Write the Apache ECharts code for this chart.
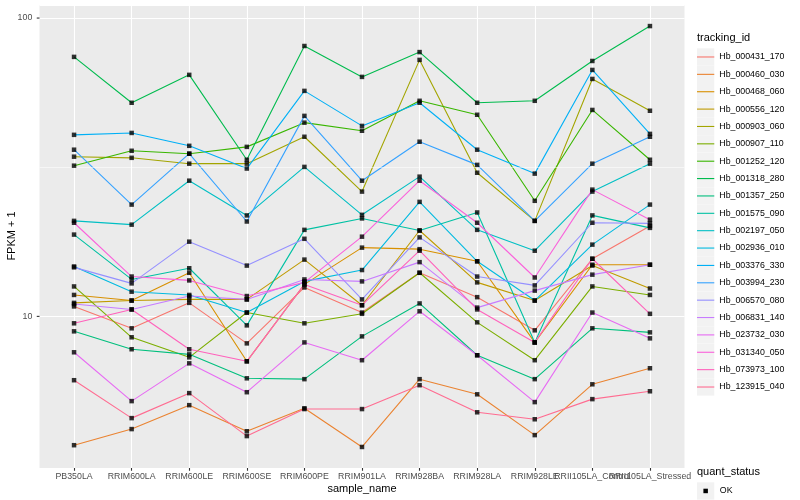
<!DOCTYPE html>
<html><head><meta charset="utf-8">
<script src="https://cdn.jsdelivr.net/npm/echarts@6/dist/echarts.min.js"></script>
<style>html,body{margin:0;padding:0;background:#fff}#c{width:800px;height:500px}</style>
</head><body><div id="c"></div>
<script>
const categories = ['PB350LA','RRIM600LA','RRIM600LE','RRIM600SE','RRIM600PE','RRIM901LA','RRIM928BA','RRIM928LA','RRIM928LE','RRII105LA_Control','RRII105LA_Stressed'];
const trackingIds = ['Hb_000431_170','Hb_000460_030','Hb_000468_060','Hb_000556_120','Hb_000903_060','Hb_000907_110','Hb_001252_120','Hb_001318_280','Hb_001357_250','Hb_001575_090','Hb_002197_050','Hb_002936_010','Hb_003376_330','Hb_003994_230','Hb_006570_080','Hb_006831_140','Hb_023732_030','Hb_031340_050','Hb_073973_100','Hb_123915_040'];
const yTickLabels = [10, 100];
const quantStatus = ['OK'];

const Hb_000431_170 = [10.8, 9.12, 11.1, 8.12, 12.5, 10.3, 14.0, 11.6, 8.98, 15.6, 20.1];
const Hb_000460_030 = [3.70, 4.19, 5.04, 4.12, 4.92, 3.65, 6.16, 5.48, 4.00, 5.92, 6.70];
const Hb_000468_060 = [11.8, 11.3, 14.0, 7.07, 12.8, 17.0, 16.8, 15.3, 8.18, 14.9, 14.9];
const Hb_000556_120 = [11.1, 11.3, 11.4, 11.4, 15.5, 10.9, 19.4, 13.0, 11.3, 14.8, 12.4];
const Hb_000903_060 = [34.3, 34.0, 32.5, 32.5, 40.0, 26.2, 72.4, 30.3, 20.9, 62.5, 48.9];
const Hb_000907_110 = [12.6, 8.51, 7.29, 10.3, 9.48, 10.2, 14.0, 9.55, 7.13, 12.6, 11.8];
const Hb_001252_120 = [32.0, 35.9, 35.1, 37.0, 44.6, 41.9, 52.8, 47.4, 24.4, 49.2, 33.5];
const Hb_001318_280 = [74.1, 52.0, 64.5, 33.5, 80.6, 63.5, 76.9, 52.0, 52.8, 71.8, 94.0];
const Hb_001357_250 = [8.91, 7.76, 7.46, 6.20, 6.16, 8.57, 11.05, 7.41, 6.16, 9.12, 8.84];
const Hb_001575_090 = [18.8, 13.3, 14.5, 9.33, 19.5, 21.3, 19.4, 22.3, 8.18, 21.8, 19.8];
const Hb_002197_050 = [20.9, 20.3, 28.5, 21.8, 31.7, 21.9, 29.4, 19.5, 16.6, 26.2, 32.5];
const Hb_002936_010 = [14.7, 12.1, 11.8, 10.3, 13.1, 14.3, 24.2, 15.3, 11.3, 17.4, 23.7];
const Hb_003376_330 = [40.6, 41.2, 37.3, 31.3, 57.0, 43.5, 52.0, 36.2, 30.1, 67.0, 40.9];
const Hb_003994_230 = [36.2, 23.7, 35.1, 20.8, 47.0, 28.5, 38.5, 32.2, 20.9, 32.5, 40.0];
const Hb_006570_080 = [14.6, 12.9, 17.8, 14.8, 18.2, 11.4, 18.4, 13.6, 12.7, 20.6, 20.5];
const Hb_006831_140 = [11.0, 10.55, 11.7, 11.4, 13.3, 13.1, 15.2, 10.7, 12.2, 13.8, 14.9];
const Hb_023732_030 = [7.58, 5.20, 6.96, 5.57, 8.18, 7.13, 10.4, 7.41, 5.16, 10.3, 8.44];
const Hb_031340_050 = [20.6, 13.6, 13.2, 11.7, 13.0, 18.5, 28.5, 20.6, 13.5, 26.6, 21.1];
const Hb_073973_100 = [9.48, 10.55, 7.76, 7.07, 12.8, 10.9, 16.6, 10.55, 8.18, 15.6, 10.2];
const Hb_123915_040 = [6.11, 4.56, 5.53, 3.97, 4.89, 4.89, 5.88, 4.77, 4.52, 5.28, 5.61];

const seriesValues = [Hb_000431_170, Hb_000460_030, Hb_000468_060, Hb_000556_120, Hb_000903_060,
  Hb_000907_110, Hb_001252_120, Hb_001318_280, Hb_001357_250, Hb_001575_090, Hb_002197_050,
  Hb_002936_010, Hb_003376_330, Hb_003994_230, Hb_006570_080, Hb_006831_140, Hb_023732_030,
  Hb_031340_050, Hb_073973_100, Hb_123915_040];

const palette = ['#F8766D','#EA8331','#D89000','#C09B00','#A3A500','#7CAE00','#39B600','#00BB4E','#00BF7D','#00C1A3','#00BFC4','#00BAE0','#00B0F6','#35A2FF','#9590FF','#C77CFF','#E76BF3','#FA62DB','#FF62BC','#FF6C91'];

const FONT = '"Liberation Sans", Arial, sans-serif';
const idx = categories.map((c, i) => i);
const lastIdx = idx[idx.length - 1];
const mainLabelIdx = idx.filter(i => i !== lastIdx - 1);
const overlapLabelIdx = [lastIdx - 1];

const lineSeries = trackingIds.map((id, k) => ({
  name: id, type: 'line',
  data: seriesValues[k].map((v, i) => [i, v]),
  showSymbol: false, symbol: 'none',
  itemStyle: { color: palette[k] },
  lineStyle: { color: palette[k], width: 1.1 },
  emphasis: { disabled: true }, silent: true, z: 2
}));

const pointData = [];
seriesValues.forEach(arr => arr.forEach((v, i) => pointData.push([i, v])));

const gridHelper = {
  name: '_grid', type: 'line', data: [], z: 1, silent: true,
  markLine: {
    silent: true, symbol: ['none', 'none'], label: { show: false }, animation: false,
    lineStyle: { color: '#FFFFFF', width: 0.55, type: 'solid' },
    data: [{ yAxis: 31.6228 }]
  }
};

const keyTop = 48.3, keyStep = 17.37;
const graphics = [
  { type: 'text', left: 697, top: 32, style: { text: 'tracking_id', font: '11px ' + FONT, fill: '#000' } },
  { type: 'text', left: 697, top: 466, style: { text: 'quant_status', font: '11px ' + FONT, fill: '#000' } },
  { type: 'rect', shape: { x: 697, y: 482.3, width: 17.28, height: 17.28 }, style: { fill: '#F2F2F2' }, z: 0 },
  { type: 'rect', shape: { x: 703.4, y: 488.7, width: 4.5, height: 4.5 }, style: { fill: '#000' }, z: 1 },
  { type: 'text', x: 719.8, y: 491, style: { text: quantStatus[0], font: '8.8px ' + FONT, fill: '#000', verticalAlign: 'middle' } },
  { type: 'text', x: 12, y: 236, rotation: Math.PI / 2, style: { text: 'FPKM + 1', font: '11px ' + FONT, fill: '#000', align: 'center', verticalAlign: 'middle' } },
  { type: 'text', x: 362, y: 489, style: { text: 'sample_name', font: '11px ' + FONT, fill: '#000', align: 'center', verticalAlign: 'middle' } }
];
trackingIds.forEach((id, k) => {
  graphics.push({ type: 'rect', shape: { x: 697, y: keyTop + k * keyStep, width: 17.28, height: 17.28 }, style: { fill: '#F2F2F2' }, z: 0 });
});

const xLabelStyle = { margin: 4.5, color: '#4D4D4D', fontSize: 8.8, fontFamily: FONT, hideOverlap: false, formatter: v => categories[Math.round(v)] };

const chart = echarts.init(document.getElementById('c'), null, { renderer: 'canvas' });
chart.setOption({
  animation: false,
  backgroundColor: '#FFFFFF',
  grid: { left: 39.5, right: 115.5, top: 5, bottom: 32, show: true, backgroundColor: '#EBEBEB', borderWidth: 0, containLabel: false },
  xAxis: [{
    type: 'value', min: -0.6, max: 10.6, z: 2,
    axisLine: { show: false },
    axisTick: { show: true, length: 2.75, lineStyle: { color: '#333333', width: 1.1 }, customValues: idx },
    axisLabel: Object.assign({ customValues: mainLabelIdx }, xLabelStyle),
    splitLine: { show: true, lineStyle: { color: '#FFFFFF', width: 1.1 } },
    minorSplitLine: { show: false }
  }, {
    type: 'value', min: -0.6, max: 10.6, position: 'bottom', offset: 0, z: 1,
    axisLine: { show: false }, axisTick: { show: false }, splitLine: { show: false },
    axisLabel: Object.assign({ customValues: overlapLabelIdx }, xLabelStyle)
  }],
  yAxis: {
    type: 'log', logBase: 10, min: 3.103, max: 110.6,
    axisLine: { show: false },
    axisTick: { show: false },
    axisLabel: {
      margin: 7.2, color: '#4D4D4D', fontSize: 8.8, fontFamily: FONT,
      formatter: v => { const l = Math.log10(v); return yTickLabels.some(t => Math.abs(Math.log10(t) - l) < 1e-6) ? String(Math.round(v)) : ''; }
    },
    splitLine: { show: true, lineStyle: { color: '#FFFFFF', width: 1.1 } }
  },
  legend: {
    orient: 'vertical', left: 697, top: keyTop, padding: 0, itemGap: 0,
    itemWidth: 17.28, itemHeight: 1.1, icon: 'rect', selectedMode: false,
    data: trackingIds,
    textStyle: { fontSize: 8.8, color: '#000', fontFamily: FONT, lineHeight: keyStep }
  },
  graphic: graphics,
  series: [gridHelper].concat(lineSeries).concat([{
    name: quantStatus[0], type: 'scatter', data: pointData, symbol: 'rect', symbolSize: 4.5,
    itemStyle: { color: '#000000' }, z: 5, silent: true, emphasis: { disabled: true }
  }])
});

// y-axis tick marks placed through the chart's own scale
const tickGraphics = yTickLabels.map(t => {
  const p = chart.convertToPixel({ gridIndex: 0 }, [-0.6, t]);
  return { type: 'line', shape: { x1: p[0] - 2.75, y1: p[1], x2: p[0], y2: p[1] }, style: { stroke: '#333333', lineWidth: 1.1 }, z: 3 };
});
chart.setOption({ graphic: graphics.concat(tickGraphics) });
</script></body></html>
